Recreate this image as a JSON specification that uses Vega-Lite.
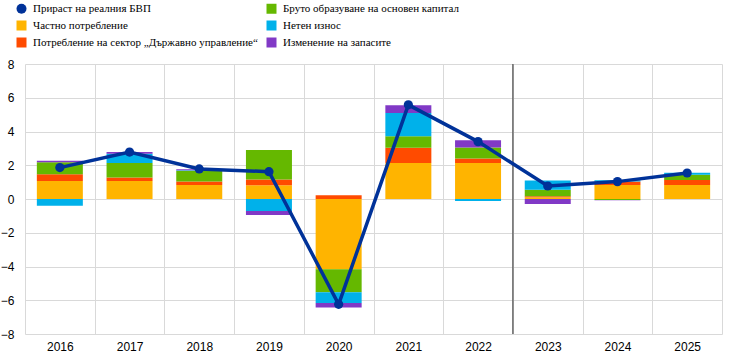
{
  "$schema": "https://vega.github.io/schema/vega-lite/v6.json",
  "width": 697,
  "height": 270,
  "autosize": "none",
  "padding": {"left": 25, "top": 64, "right": 11, "bottom": 25},
  "background": "white",
  "config": {
    "font": "Liberation Sans",
    "view": {"stroke": null},
    "axis": {"labelFont": "Liberation Sans", "labelFontSize": 12, "labelColor": "#000000", "gridColor": "#d9d9d9", "gridWidth": 1, "domain": false, "ticks": false, "title": null, "labelOverlap": false},
    "axisY": {"values": [-8, -6, -4, -2, 0, 2, 4, 6, 8], "grid": true, "labelPadding": 11}
  },
  "datasets": {
    "comp": [
      {"year": "2016", "component": "Частно потребление", "value": 1.07},
      {"year": "2016", "component": "Потребление на сектор „Държавно управление“", "value": 0.40},
      {"year": "2016", "component": "Бруто образуване на основен капитал", "value": 0.71},
      {"year": "2016", "component": "Нетен износ", "value": -0.40},
      {"year": "2016", "component": "Изменение на запасите", "value": 0.08},
      {"year": "2017", "component": "Частно потребление", "value": 1.07},
      {"year": "2017", "component": "Потребление на сектор „Държавно управление“", "value": 0.20},
      {"year": "2017", "component": "Бруто образуване на основен капитал", "value": 0.86},
      {"year": "2017", "component": "Нетен износ", "value": 0.55},
      {"year": "2017", "component": "Изменение на запасите", "value": 0.10},
      {"year": "2018", "component": "Частно потребление", "value": 0.83},
      {"year": "2018", "component": "Потребление на сектор „Държавно управление“", "value": 0.20},
      {"year": "2018", "component": "Бруто образуване на основен капитал", "value": 0.64},
      {"year": "2018", "component": "Нетен износ", "value": 0.03},
      {"year": "2018", "component": "Изменение на запасите", "value": 0.07},
      {"year": "2019", "component": "Частно потребление", "value": 0.81},
      {"year": "2019", "component": "Потребление на сектор „Държавно управление“", "value": 0.34},
      {"year": "2019", "component": "Бруто образуване на основен капитал", "value": 1.76},
      {"year": "2019", "component": "Нетен износ", "value": -0.71},
      {"year": "2019", "component": "Изменение на запасите", "value": -0.24},
      {"year": "2020", "component": "Частно потребление", "value": -4.16},
      {"year": "2020", "component": "Потребление на сектор „Държавно управление“", "value": 0.22},
      {"year": "2020", "component": "Бруто образуване на основен капитал", "value": -1.37},
      {"year": "2020", "component": "Нетен износ", "value": -0.63},
      {"year": "2020", "component": "Изменение на запасите", "value": -0.27},
      {"year": "2021", "component": "Частно потребление", "value": 2.14},
      {"year": "2021", "component": "Потребление на сектор „Държавно управление“", "value": 0.89},
      {"year": "2021", "component": "Бруто образуване на основен капитал", "value": 0.69},
      {"year": "2021", "component": "Нетен износ", "value": 1.38},
      {"year": "2021", "component": "Изменение на запасите", "value": 0.46},
      {"year": "2022", "component": "Частно потребление", "value": 2.14},
      {"year": "2022", "component": "Потребление на сектор „Държавно управление“", "value": 0.26},
      {"year": "2022", "component": "Бруто образуване на основен капитал", "value": 0.65},
      {"year": "2022", "component": "Нетен износ", "value": -0.12},
      {"year": "2022", "component": "Изменение на запасите", "value": 0.43},
      {"year": "2023", "component": "Частно потребление", "value": 0.10},
      {"year": "2023", "component": "Потребление на сектор „Държавно управление“", "value": 0.07},
      {"year": "2023", "component": "Бруто образуване на основен капитал", "value": 0.38},
      {"year": "2023", "component": "Нетен износ", "value": 0.55},
      {"year": "2023", "component": "Изменение на запасите", "value": -0.30},
      {"year": "2024", "component": "Частно потребление", "value": 0.83},
      {"year": "2024", "component": "Потребление на сектор „Държавно управление“", "value": 0.20},
      {"year": "2024", "component": "Бруто образуване на основен капитал", "value": -0.06},
      {"year": "2024", "component": "Нетен износ", "value": 0.08},
      {"year": "2024", "component": "Изменение на запасите", "value": -0.02},
      {"year": "2025", "component": "Частно потребление", "value": 0.83},
      {"year": "2025", "component": "Потребление на сектор „Държавно управление“", "value": 0.30},
      {"year": "2025", "component": "Бруто образуване на основен капитал", "value": 0.30},
      {"year": "2025", "component": "Нетен износ", "value": 0.12},
      {"year": "2025", "component": "Изменение на запасите", "value": 0.00}
    ],
    "gdp": [
      {"year": "2016", "gdp": 1.86},
      {"year": "2017", "gdp": 2.78},
      {"year": "2018", "gdp": 1.78},
      {"year": "2019", "gdp": 1.62},
      {"year": "2020", "gdp": -6.24},
      {"year": "2021", "gdp": 5.58},
      {"year": "2022", "gdp": 3.40},
      {"year": "2023", "gdp": 0.77},
      {"year": "2024", "gdp": 1.03},
      {"year": "2025", "gdp": 1.54}
    ],
    "divider": [{"year": "2023"}]
  },
  "layer": [
    {
      "data": {"name": "comp"},
      "transform": [{"window": [{"op": "row_number", "as": "rank"}], "groupby": ["year"]}],
      "mark": {"type": "bar", "width": {"band": 0.66}},
      "encoding": {
        "x": {"field": "year", "type": "ordinal", "scale": {"paddingInner": 0, "paddingOuter": 0},
              "axis": {"labelAngle": 0, "grid": true, "tickBand": "extent", "labelPadding": 7}},
        "y": {"field": "value", "type": "quantitative", "stack": "zero",
              "scale": {"domain": [-8, 8], "nice": false}},
        "order": {"field": "rank", "type": "quantitative", "sort": "ascending"},
        "color": {
          "field": "component", "type": "nominal",
          "scale": {
            "domain": ["Прираст на реалния БВП", "Частно потребление", "Потребление на сектор „Държавно управление“", "Бруто образуване на основен капитал", "Нетен износ", "Изменение на запасите"],
            "range": ["#003299", "#ffb400", "#ff4b00", "#65b800", "#00b1ea", "#8139c6"]
          },
          "legend": {
            "orient": "none", "legendX": -9, "legendY": -61, "columns": 2, "columnPadding": 8, "rowPadding": 5,
            "title": null, "symbolSize": 100, "symbolType": "square", "symbolStrokeWidth": 0,
            "labelFont": "Liberation Sans Narrow", "labelFontSize": 11, "labelColor": "#000000", "labelOffset": 6, "labelLimit": 400,
            "values": ["Прираст на реалния БВП", "Частно потребление", "Потребление на сектор „Държавно управление“", "Бруто образуване на основен капитал", "Нетен износ", "Изменение на запасите"],
            "encode": {"symbols": {"update": {
              "shape": {"signal": "datum.value === 'Прираст на реалния БВП' ? 'circle' : 'square'"},
              "fill": {"scale": "color", "field": "value"},
              "strokeWidth": {"value": 0}
            }}}
          }
        }
      }
    },
    {
      "data": {"name": "divider"},
      "mark": {"type": "rule", "color": "#666666", "strokeWidth": 1.5},
      "encoding": {"x": {"field": "year", "type": "ordinal", "bandPosition": 0}}
    },
    {
      "data": {"name": "gdp"},
      "mark": {"type": "line", "strokeWidth": 3.5, "point": {"size": 85, "filled": true, "opacity": 1}},
      "encoding": {
        "x": {"field": "year", "type": "ordinal"},
        "y": {"field": "gdp", "type": "quantitative"},
        "color": {"datum": "Прираст на реалния БВП"}
      }
    }
  ]
}
